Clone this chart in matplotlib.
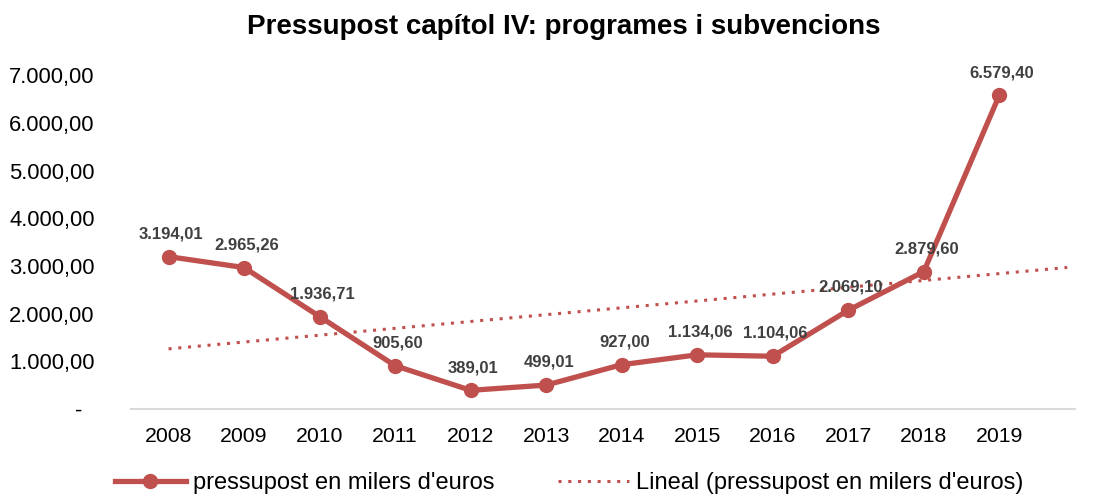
import numpy as np
import matplotlib
matplotlib.use("Agg")
import matplotlib.pyplot as plt
from matplotlib.lines import Line2D

plt.rcParams['font.family'] = ['Liberation Sans', 'DejaVu Sans']

# data
years = ['2008', '2009', '2010', '2011', '2012', '2013', '2014', '2015', '2016', '2017', '2018', '2019']
budget = [3194.01, 2965.26, 1936.71, 905.60, 389.01, 499.01, 927.00, 1134.06, 1104.06, 2069.10, 2879.60, 6579.40]
labels = ['3.194,01', '2.965,26', '1.936,71', '905,60', '389,01', '499,01', '927,00',
          '1.134,06', '1.104,06', '2.069,10', '2.879,60', '6.579,40']
yticks = [0, 1000, 2000, 3000, 4000, 5000, 6000, 7000]
ytick_labels = ['-  ', '1.000,00', '2.000,00', '3.000,00', '4.000,00', '5.000,00', '6.000,00', '7.000,00']

red = '#C0504D'

fig = plt.figure(figsize=(10.99, 4.95), dpi=100)
ax = fig.add_axes([0.119, 0.174, 0.859, 0.674])

x = np.arange(len(years))

# linear trendline (Excel "Lineal"), extended a bit forward
coef = np.polyfit(x, budget, 1)
xt = np.array([0, 11.9])
ax.plot(xt, np.polyval(coef, xt), color=red, lw=2.2, linestyle=(0, (1, 2.2)), zorder=2)

ax.plot(x, budget, color=red, lw=3.8, marker='o', markersize=10, zorder=3, solid_capstyle='round')

for xi, yi, lab in zip(x, budget, labels):
    ax.annotate(lab, (xi, yi), xytext=(2, 11), textcoords='offset points',
                ha='center', va='bottom', fontsize=12, fontweight='bold', color='#404040',
                annotation_clip=False)

ax.set_xlim(-0.5, 12.0)
ax.set_ylim(0, 7000)
ax.set_xticks(x)
ax.set_xticklabels(years, fontsize=15.3)
ax.set_yticks(yticks)
ax.set_yticklabels(ytick_labels, fontsize=15.8)
ax.tick_params(axis='both', length=0)
ax.tick_params(axis='x', pad=13)
ax.tick_params(axis='y', pad=26)

for s in ['top', 'right', 'left']:
    ax.spines[s].set_visible(False)
ax.spines['bottom'].set_color('#D9D9D9')
ax.spines['bottom'].set_linewidth(1.5)

fig.text(0.513, 0.945, 'Pressupost capítol IV: programes i subvencions',
         ha='center', va='center', fontsize=20, fontweight='bold', color='#000000')

handles = [
    Line2D([], [], color=red, lw=3.8, marker='o', markersize=10),
    Line2D([], [], color=red, lw=2.2, linestyle=(0, (1, 2.2))),
]
fig.legend(handles, ["pressupost en milers d'euros", "Lineal (pressupost en milers d'euros)"],
           loc='center', bbox_to_anchor=(0.518, 0.024), ncol=2, frameon=False,
           fontsize=17, handlelength=3.0, columnspacing=2.7, handletextpad=0.3,
           borderpad=0, borderaxespad=0)

fig.savefig('out.png', dpi=100)
